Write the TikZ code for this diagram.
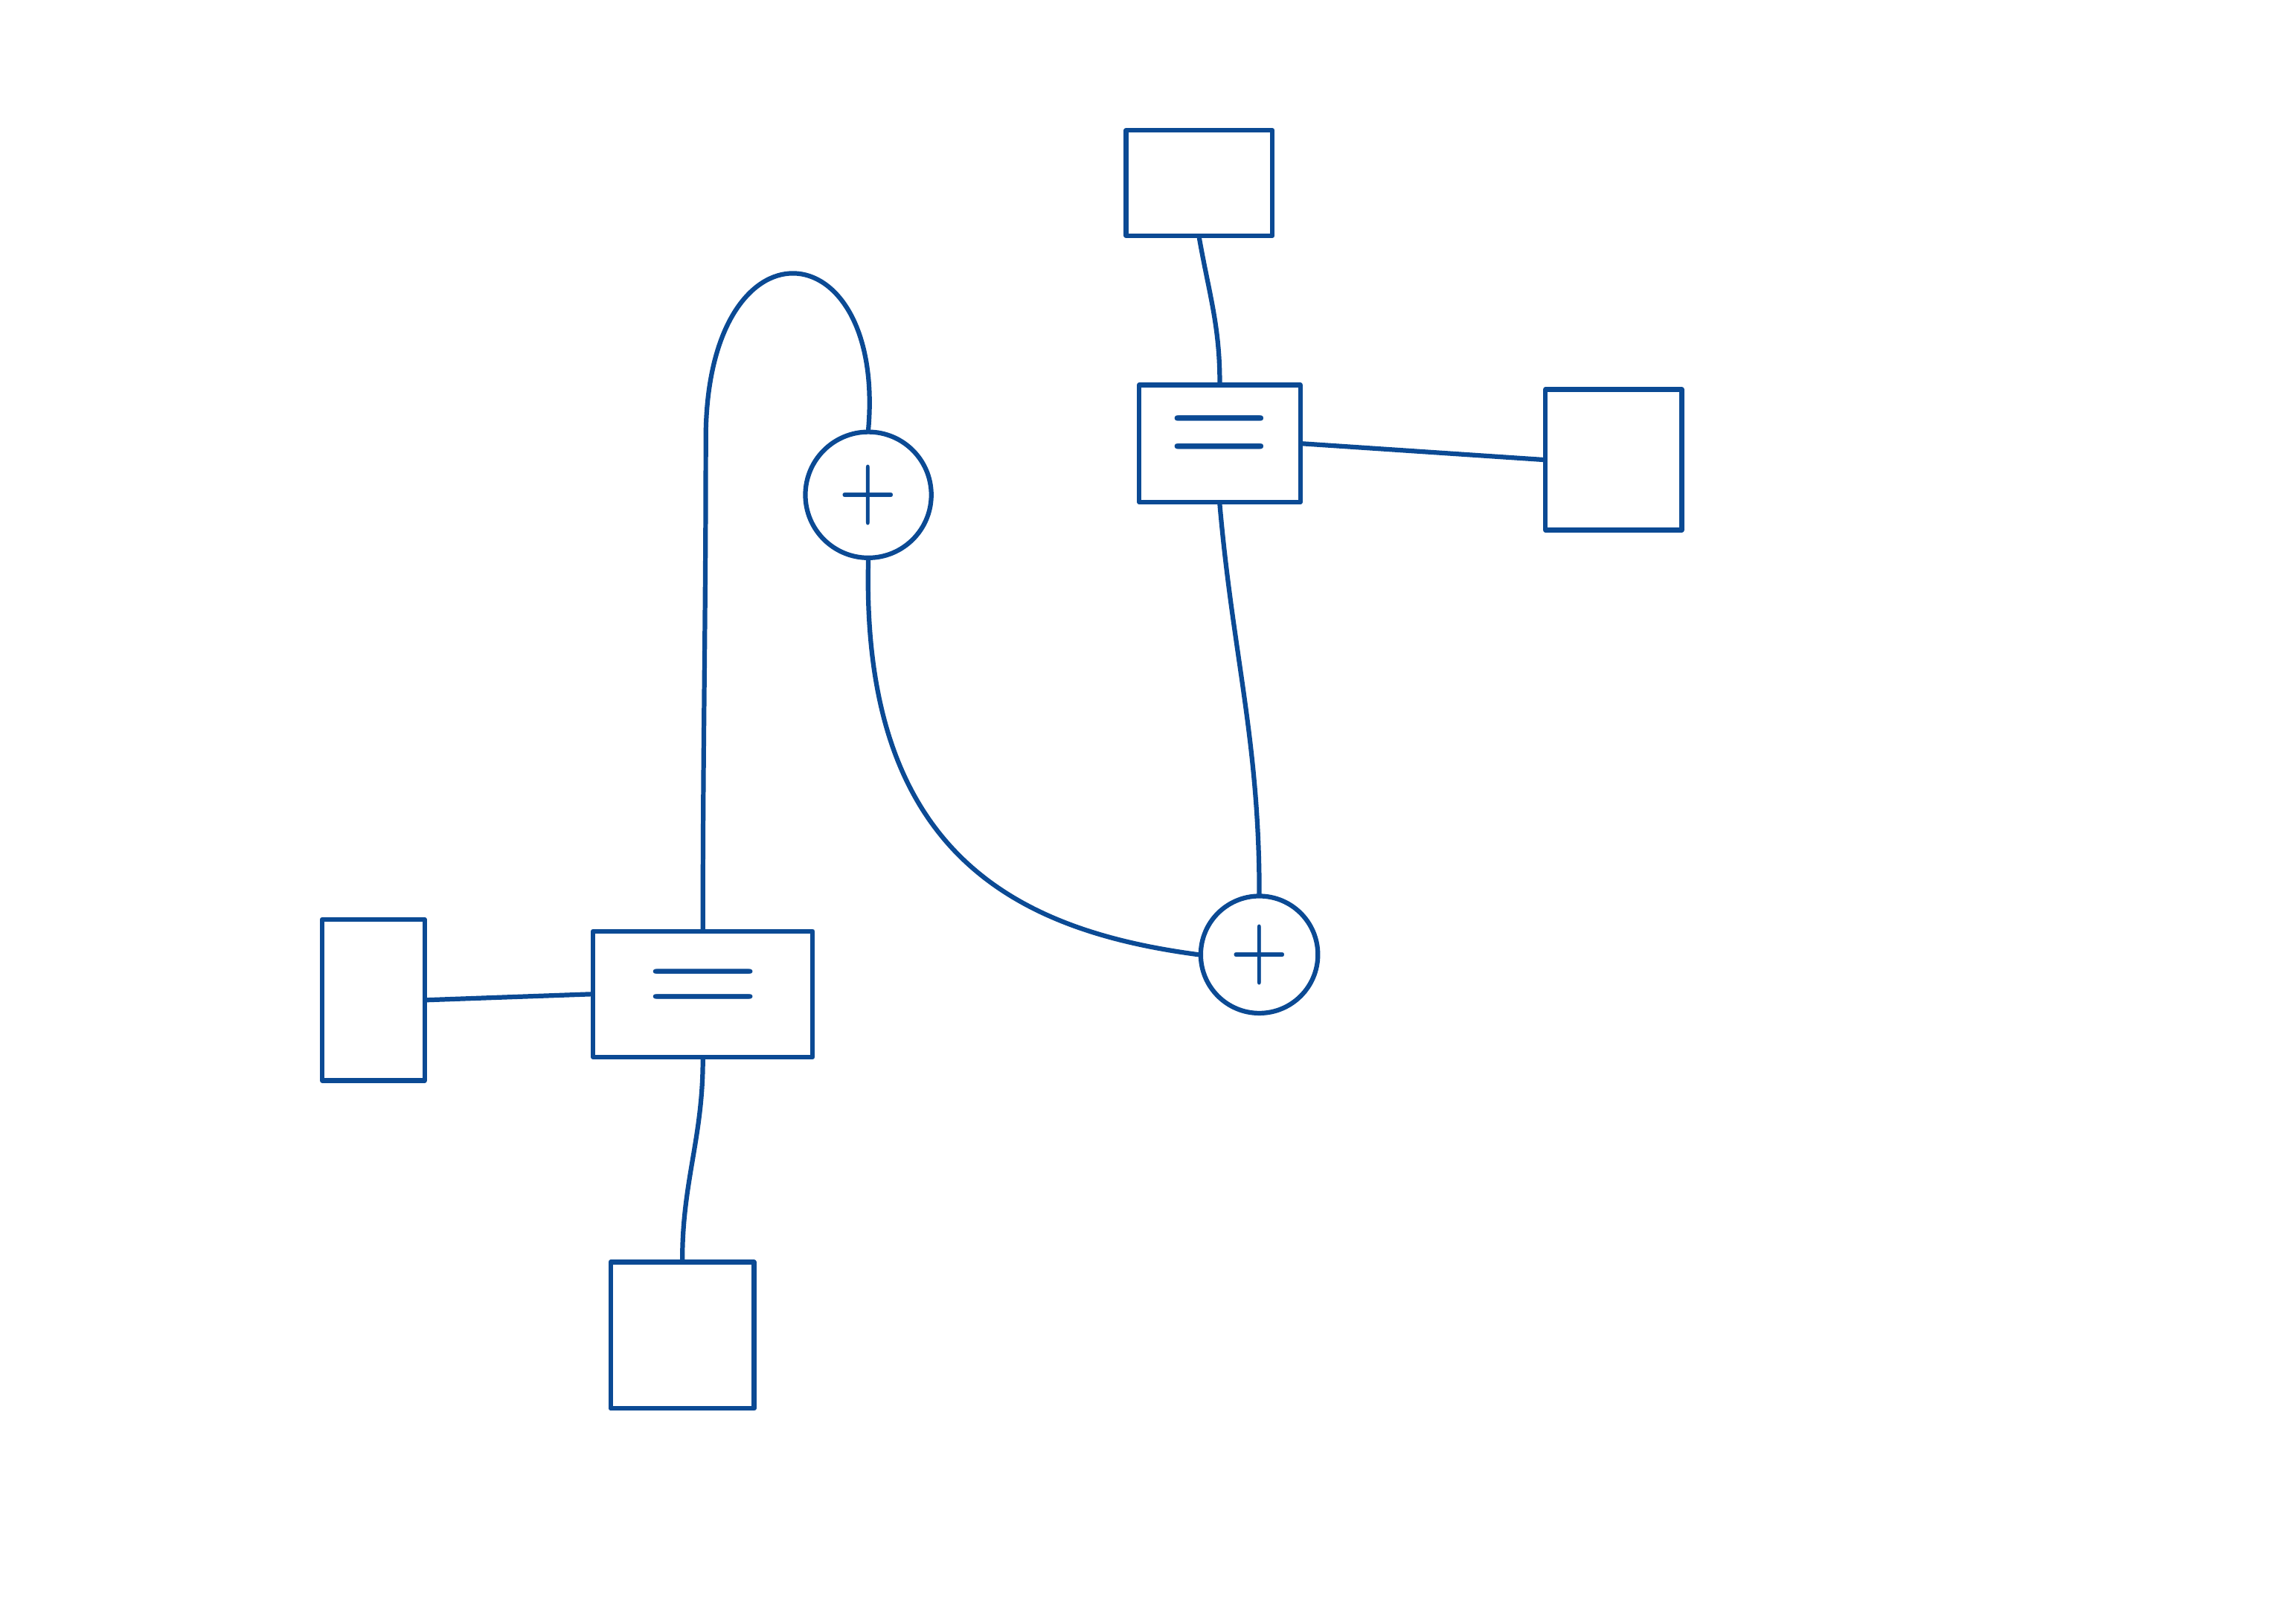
\documentclass[tikz,border=0pt]{standalone}
\usepackage{tikz}
\definecolor{caneta}{HTML}{0B4A94}

\begin{document}
\begin{tikzpicture}[
    color=caneta, line width=0.9pt, line cap=round, line join=round,
    caixa/.style={draw, rectangle, inner sep=0pt},
    igual/.style={caixa, font=\fontsize{22}{22}\selectfont},
    soma/.style={draw, circle, inner sep=0pt, font=\bfseries\fontsize{13}{13}\selectfont}
]
    \useasboundingbox (0,0) rectangle (15.68,-11.09);

    % Caixas externas
    \node[caixa, minimum width=1.0cm, minimum height=0.72cm] (topo) at (8.19,-1.25) {};
    \node[caixa, minimum width=0.93cm, minimum height=0.96cm] (dir) at (11.02,-3.14) {};
    \node[caixa, minimum width=0.7cm, minimum height=1.1cm] (esq) at (2.55,-6.83) {};
    \node[caixa, minimum width=0.98cm, minimum height=1.0cm] (baixo) at (4.66,-9.12) {};

    % Nos de igualdade
    \node[igual, minimum width=1.1cm, minimum height=0.8cm] (igA) at (8.33,-3.03) {\scalebox{1.25}[1.4]{=}};
    \node[igual, minimum width=1.5cm, minimum height=0.86cm] (igB) at (4.80,-6.79) {\scalebox{1.4}[1.25]{=}};

    % Nos de soma
    \node[soma, minimum size=0.86cm] (somaA) at (5.93,-3.38) {\scalebox{1}[1.2]{+}};
    \node[soma, minimum size=0.80cm] (somaB) at (8.60,-6.52) {\scalebox{1}[1.2]{+}};

    % Ligacoes
    \draw (topo.south) to[out=-80, in=90] (igA.north);
    \draw (igA.east) -- (dir.west);
    \draw (igA.south) to[out=-85, in=90] (somaB.north);
    \draw (somaA.south) .. controls (5.88,-5.8) and (6.9,-6.35) .. (somaB.west);
    \draw (somaA.north) .. controls (6.05,-1.55) and (4.82,-1.45) .. (4.82,-3.0)
        to[out=-90, in=90] (igB.north);
    \draw (igB.west) -- (esq.east);
    \draw (igB.south) to[out=-90, in=90] (baixo.north);
\end{tikzpicture}
\end{document}
